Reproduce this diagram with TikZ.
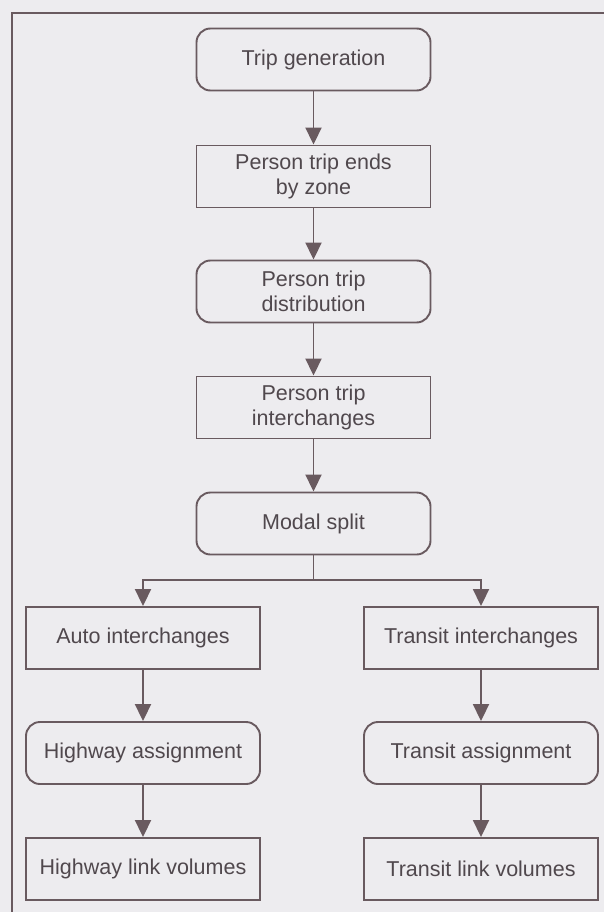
\documentclass[tikz,border=0pt]{standalone}
\usepackage{fontspec}
\setmainfont{Liberation Sans}
\usetikzlibrary{arrows.meta}
\definecolor{bg}{RGB}{237,236,239}
\definecolor{ln}{RGB}{105,90,95}
\definecolor{tx}{RGB}{80,72,77}
\tikzset{
  box/.style={draw=ln, line width=1.9pt, minimum width=234pt, minimum height=62pt,
    align=center, text=tx, inner sep=2pt,
    font=\fontsize{21.5}{25}\selectfont},
  rbox/.style={box, rounded corners=14pt},
  arr/.style={draw=ln, line width=1.9pt, -{Triangle[width=16pt,length=17pt]}},
  link/.style={draw=ln, line width=1.9pt}
}
\begin{document}
\begin{tikzpicture}[x=1pt,y=-1pt]
\fill[bg] (0,0) rectangle (604,912);
\useasboundingbox (0,0) rectangle (604,912);
\draw[link] (604,13) -- (12,13) -- (12,912);
\node[rbox] (n1) at (313.5,59.5) {Trip generation};
\node[box]  (n2) at (313.5,176.5) {Person trip ends\\by zone};
\node[rbox] (n3) at (313.5,291.5) {Person trip\\distribution};
\node[box]  (n4) at (313.5,407.5) {Person trip\\interchanges};
\node[rbox] (n5) at (313.5,523.5) {Modal split};
\node[box]  (a1) at (143,638) {Auto interchanges};
\node[box]  (t1) at (481,638) {Transit interchanges};
\node[rbox] (a2) at (143,753) {Highway assignment};
\node[rbox] (t2) at (481,753) {Transit assignment};
\node[box]  (a3) at (143,869) {Highway link volumes};
\node[box]  (t3) at (481,869) {Transit link volumes};
\draw[arr] (n1) -- (n2);
\draw[arr] (n2) -- (n3);
\draw[arr] (n3) -- (n4);
\draw[arr] (n4) -- (n5);
\coordinate (split) at (313.5,580);
\draw[link] (n5.south) -- (split);
\draw[arr] (split) -| (a1.north);
\draw[arr] (split) -| (t1.north);
\draw[arr] (a1) -- (a2);
\draw[arr] (a2) -- (a3);
\draw[arr] (t1) -- (t2);
\draw[arr] (t2) -- (t3);
\end{tikzpicture}
\end{document}
